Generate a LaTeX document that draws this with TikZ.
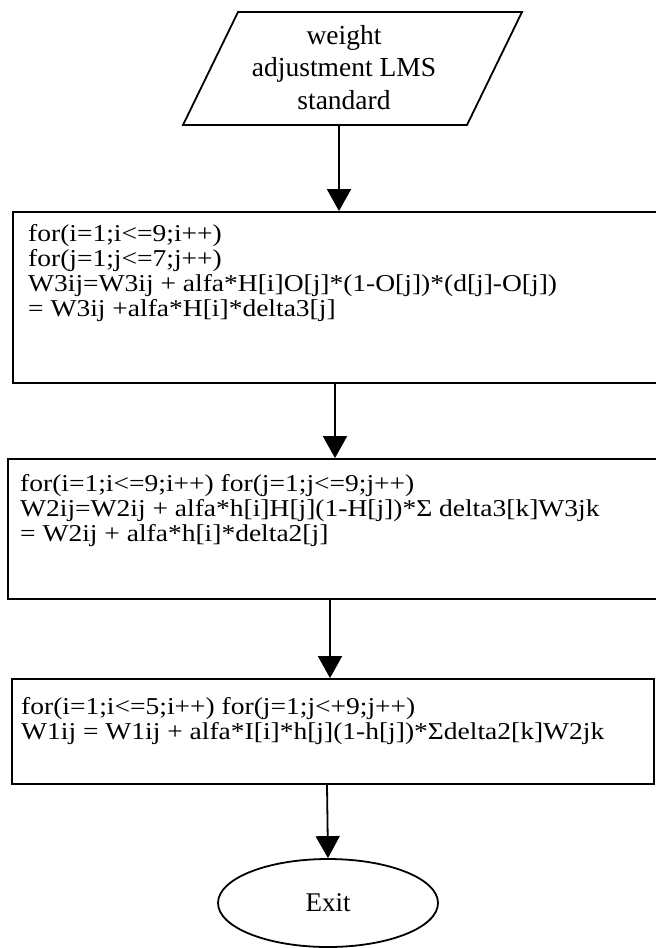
\documentclass[tikz,border=0pt]{standalone}
\usepackage{fontspec}
\setmainfont{Liberation Serif}
\usetikzlibrary{arrows.meta,shapes.geometric}

\tikzset{
  flowline/.style={line width=1.8pt},
  arr/.style={flowline,-{Triangle[width=24pt,length=22pt]}},
  stepbox/.style={draw,flowline,rectangle,inner sep=0pt},
  txt/.style={inner sep=0pt,font=\fontsize{27.5}{32.5}\selectfont},
  % box texts: slightly squat glyphs and tight single spacing
  lefttxt/.style={inner sep=0pt,font=\fontsize{27.5}{28.5}\selectfont,
                  align=left,anchor=north west,yscale=0.88,transform shape},
}

\begin{document}
\begin{tikzpicture}[x=1pt,y=-1pt]
\useasboundingbox (0,0) rectangle (656,948);
\clip (0,0) rectangle (656,948);

% input parallelogram
\coordinate (pTL) at (238,12);
\coordinate (pTR) at (522,12);
\coordinate (pBR) at (467,125);
\coordinate (pBL) at (183,125);
\draw[flowline] (pTL) -- (pTR) -- (pBR) -- (pBL) -- cycle;
\coordinate (startout) at (339,125);
\node[txt,align=center,anchor=north] (starttxt) at (344,25)
  {weight\\adjustment LMS\\standard};

% output-layer weights
\node[stepbox,minimum width=667pt,minimum height=171pt] (b1) at (346.5,297.5) {};
\node[lefttxt] (t1) at (28,224)
  {for(i=1;i<=9;i++)\\for(j=1;j<=7;j++)\\W3ij=W3ij + alfa*H[i]O[j]*(1-O[j])*(d[j]-O[j])\\= W3ij +alfa*H[i]*delta3[j]};

% hidden-layer weights
\node[stepbox,minimum width=672pt,minimum height=140pt] (b2) at (344,529) {};
\node[lefttxt] (t2) at (20,474)
  {for(i=1;i<=9;i++) for(j=1;j<=9;j++)\\W2ij=W2ij + alfa*h[i]H[j](1-H[j])*Σ delta3[k]W3jk\\= W2ij + alfa*h[i]*delta2[j]};

% input-layer weights
\node[stepbox,minimum width=642pt,minimum height=105pt] (b3) at (333,731.5) {};
\node[lefttxt] (t3) at (21,697)
  {for(i=1;i<=5;i++) for(j=1;j<+9;j++)\\W1ij = W1ij + alfa*I[i]*h[j](1-h[j])*Σdelta2[k]W2jk};

% terminator
\node[draw,flowline,ellipse,minimum width=220pt,minimum height=88pt,inner sep=0pt,
      font=\fontsize{27}{32.5}\selectfont] (exit) at (328,903) {Exit};

% connectors
\draw[arr] (startout) -- ([xshift=-7.5pt]b1.north);
\draw[arr] ([xshift=-11.5pt]b1.south) -- ([xshift=-9pt]b2.north);
\draw[arr] ([xshift=-14pt]b2.south) -- ([xshift=-3pt]b3.north);
\draw[arr] ([xshift=-6pt]b3.south) -- (exit.north);
\end{tikzpicture}
\end{document}
